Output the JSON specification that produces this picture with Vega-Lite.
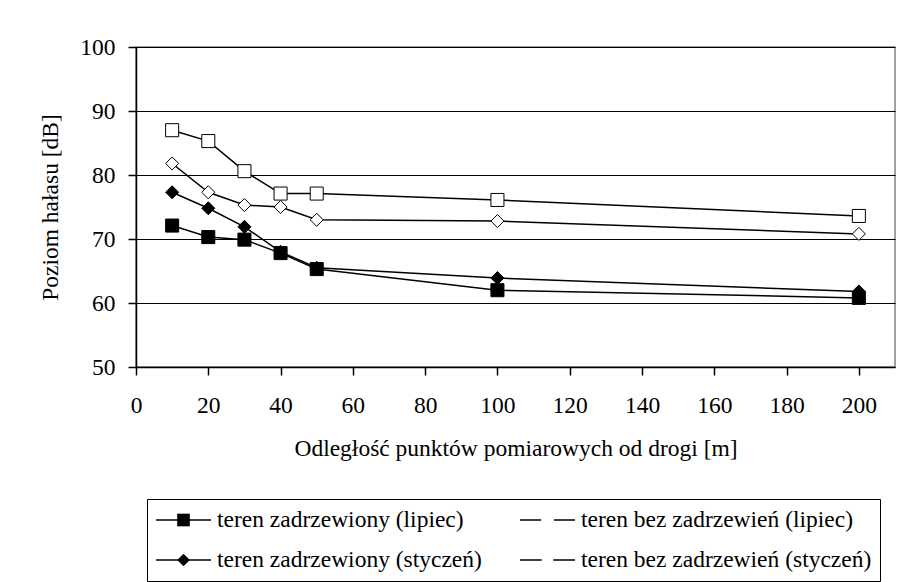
{
  "$schema": "https://vega.github.io/schema/vega-lite/v6.json",
  "width": 759,
  "height": 320,
  "autosize": {"type": "none"},
  "padding": {"left": 136, "top": 47, "right": 27, "bottom": 215},
  "background": "white",
  "config": {
    "view": {"stroke": "#808080", "strokeWidth": 1.5},
    "font": "Liberation Serif",
    "axis": {
      "labelFont": "Liberation Serif",
      "labelFontSize": 23.5,
      "labelColor": "black",
      "titleFont": "Liberation Serif",
      "titleFontSize": 23.5,
      "titleFontWeight": "normal",
      "titleColor": "black",
      "domainColor": "black",
      "domainWidth": 1.5,
      "tickColor": "black",
      "tickWidth": 1.5,
      "tickSize": 8,
      "gridColor": "black",
      "gridWidth": 1,
      "gridOpacity": 1
    }
  },
  "data": {
    "values": [
      {"x": 10, "y": 72.1, "series": "teren zadrzewiony (lipiec)"},
      {"x": 20, "y": 70.3, "series": "teren zadrzewiony (lipiec)"},
      {"x": 30, "y": 69.9, "series": "teren zadrzewiony (lipiec)"},
      {"x": 40, "y": 67.8, "series": "teren zadrzewiony (lipiec)"},
      {"x": 50, "y": 65.3, "series": "teren zadrzewiony (lipiec)"},
      {"x": 100, "y": 62.0, "series": "teren zadrzewiony (lipiec)"},
      {"x": 200, "y": 60.8, "series": "teren zadrzewiony (lipiec)"},
      {"x": 10, "y": 87.0, "series": "teren bez zadrzewień (lipiec)"},
      {"x": 20, "y": 85.3, "series": "teren bez zadrzewień (lipiec)"},
      {"x": 30, "y": 80.6, "series": "teren bez zadrzewień (lipiec)"},
      {"x": 40, "y": 77.1, "series": "teren bez zadrzewień (lipiec)"},
      {"x": 50, "y": 77.1, "series": "teren bez zadrzewień (lipiec)"},
      {"x": 100, "y": 76.1, "series": "teren bez zadrzewień (lipiec)"},
      {"x": 200, "y": 73.6, "series": "teren bez zadrzewień (lipiec)"},
      {"x": 10, "y": 77.3, "series": "teren zadrzewiony (styczeń)"},
      {"x": 20, "y": 74.8, "series": "teren zadrzewiony (styczeń)"},
      {"x": 30, "y": 71.9, "series": "teren zadrzewiony (styczeń)"},
      {"x": 40, "y": 68.0, "series": "teren zadrzewiony (styczeń)"},
      {"x": 50, "y": 65.5, "series": "teren zadrzewiony (styczeń)"},
      {"x": 100, "y": 63.9, "series": "teren zadrzewiony (styczeń)"},
      {"x": 200, "y": 61.8, "series": "teren zadrzewiony (styczeń)"},
      {"x": 10, "y": 81.8, "series": "teren bez zadrzewień (styczeń)"},
      {"x": 20, "y": 77.3, "series": "teren bez zadrzewień (styczeń)"},
      {"x": 30, "y": 75.3, "series": "teren bez zadrzewień (styczeń)"},
      {"x": 40, "y": 75.0, "series": "teren bez zadrzewień (styczeń)"},
      {"x": 50, "y": 73.0, "series": "teren bez zadrzewień (styczeń)"},
      {"x": 100, "y": 72.8, "series": "teren bez zadrzewień (styczeń)"},
      {"x": 200, "y": 70.8, "series": "teren bez zadrzewień (styczeń)"}
    ]
  },
  "encoding": {
    "x": {
      "field": "x",
      "type": "quantitative",
      "scale": {"domain": [0, 210], "nice": false, "zero": false},
      "axis": {
        "title": "Odległość punktów pomiarowych od drogi [m]",
        "values": [0, 20, 40, 60, 80, 100, 120, 140, 160, 180, 200],
        "grid": false,
        "labelPadding": 18,
        "titlePadding": 20,
        "labelFlush": false,
        "labelOverlap": false
      }
    },
    "y": {
      "field": "y",
      "type": "quantitative",
      "scale": {"domain": [50, 100], "nice": false, "zero": false},
      "axis": {
        "title": "Poziom hałasu [dB]",
        "values": [50, 60, 70, 80, 90, 100],
        "grid": true,
        "labelPadding": 13,
        "titlePadding": 17,
        "labelFlush": false,
        "labelOverlap": false
      }
    }
  },
  "layer": [
    {
      "mark": {"type": "line", "strokeWidth": 1.5},
      "encoding": {
        "color": {
          "field": "series",
          "type": "nominal",
          "sort": ["teren zadrzewiony (lipiec)", "teren bez zadrzewień (lipiec)", "teren zadrzewiony (styczeń)", "teren bez zadrzewień (styczeń)"],
          "scale": {"range": ["black", "black", "black", "black"]},
          "legend": {
            "title": null,
            "orient": "none",
            "legendX": 11,
            "legendY": 452,
            "columns": 2,
            "direction": "horizontal",
            "padding": 8,
            "strokeColor": "black",
            "labelFont": "Liberation Serif",
            "labelFontSize": 23.5,
            "labelColor": "black",
            "labelLimit": 500,
            "labelOffset": 5,
            "symbolType": "M-1,0H-0.2M0.2,0H1",
            "symbolSize": 3025,
            "symbolStrokeColor": "black",
            "symbolStrokeWidth": 1.5,
            "symbolOpacity": 1,
            "clipHeight": 26,
            "rowPadding": 14,
            "columnPadding": 37
          }
        }
      }
    },
    {
      "mark": {"type": "point", "filled": true, "stroke": "black", "strokeWidth": 1, "size": 170, "opacity": 1},
      "encoding": {
        "fill": {
          "field": "series",
          "type": "nominal",
          "scale": {
            "domain": ["teren zadrzewiony (lipiec)", "teren bez zadrzewień (lipiec)", "teren zadrzewiony (styczeń)", "teren bez zadrzewień (styczeń)"],
            "range": ["black", "white", "black", "white"]
          },
          "legend": null
        },
        "shape": {
          "field": "series",
          "type": "nominal",
          "scale": {
            "domain": ["teren zadrzewiony (lipiec)", "teren bez zadrzewień (lipiec)", "teren zadrzewiony (styczeń)", "teren bez zadrzewień (styczeń)"],
            "range": ["square", "square", "diamond", "diamond"]
          },
          "legend": {
            "title": null,
            "orient": "none",
            "legendX": 11,
            "legendY": 452,
            "columns": 2,
            "direction": "horizontal",
            "padding": 8,
            "labelFont": "Liberation Serif",
            "labelFontSize": 23.5,
            "labelColor": "transparent",
            "labelLimit": 500,
            "labelOffset": 21.75,
            "symbolOffset": 16.75,
            "symbolSize": 160,
            "symbolStrokeColor": "black",
            "symbolStrokeWidth": 1,
            "symbolOpacity": 1,
            "clipHeight": 26,
            "rowPadding": 14,
            "columnPadding": 37,
            "encode": {
              "symbols": {
                "update": {
                  "fill": {"signal": "indexof(datum.value, 'bez') >= 0 ? 'white' : 'black'"},
                  "stroke": {"value": "black"},
                  "strokeWidth": {"value": 1},
                  "strokeOpacity": {"value": 1}
                }
              }
            }
          }
        }
      }
    }
  ]
}
